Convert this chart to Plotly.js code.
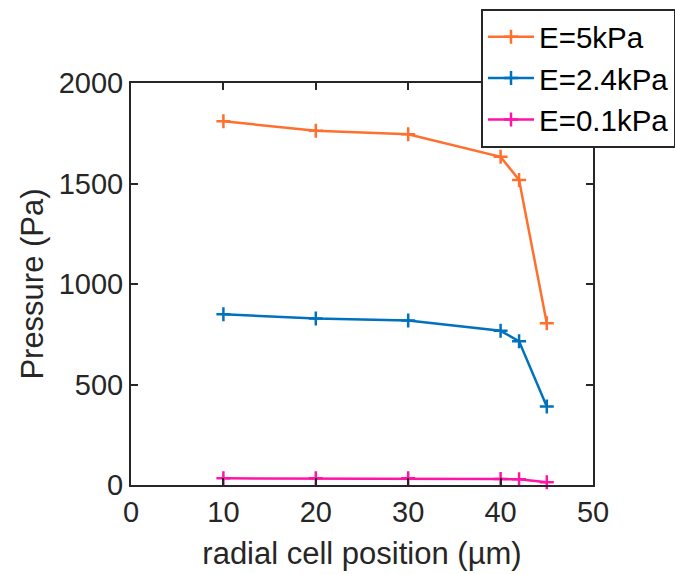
<!DOCTYPE html>
<html>
<head>
<meta charset="utf-8">
<script src="https://cdn.plot.ly/plotly-3.0.1.min.js"></script>
<style>html,body{margin:0;padding:0;background:#fff;}#chart{width:675px;height:574px;}</style>
</head>
<body>
<div id="chart"></div>
<script>
const positions = [10, 20, 30, 40, 42, 45];
const pressure5kPa = [1810, 1762, 1745, 1633, 1517, 805];
const pressure2_4kPa = [849, 828, 818, 767, 715, 390];
const pressure0_1kPa = [33, 33, 33, 30, 28, 14];
const seriesNames = ['E=5kPa', 'E=2.4kPa', 'E=0.1kPa'];
const seriesColors = ['#FF6F2E', '#0072BD', '#FF14A8'];
const xTicks = [0, 10, 20, 30, 40, 50];
const yTicks = [0, 500, 1000, 1500, 2000];

const values = [pressure5kPa, pressure2_4kPa, pressure0_1kPa];
const traces = values.map((v, i) => ({
  x: positions, y: v, name: seriesNames[i], type: 'scatter', mode: 'lines+markers',
  line: {color: seriesColors[i], width: 2.5},
  marker: {symbol: 'cross-thin', size: 10, line: {color: seriesColors[i], width: 2.5}},
  cliponaxis: false
}));

const axisCommon = {
  showgrid: false, zeroline: false, showline: true, mirror: 'ticks',
  linecolor: '#262626', linewidth: 2, ticks: 'inside', ticklen: 7, tickwidth: 2, tickcolor: '#262626',
  tickfont: {family: 'Liberation Sans, Arial, sans-serif', size: 29, color: '#262626'}
};

const layout = {
  width: 675, height: 574,
  margin: {l: 131, r: 82, t: 83, b: 89, autoexpand: false},
  paper_bgcolor: '#fff', plot_bgcolor: '#fff',
  font: {family: 'Liberation Sans, Arial, sans-serif', color: '#262626'},
  showlegend: true,
  xaxis: Object.assign({}, axisCommon, {range: [0, 50], tickvals: xTicks, ticktext: xTicks.map(String),
    title: {text: 'radial cell position (µm)', font: {size: 31, color: '#262626'}, standoff: 16}}),
  yaxis: Object.assign({}, axisCommon, {range: [0, 2000], tickvals: yTicks, ticktext: yTicks.map(String),
    title: {text: 'Pressure (Pa)', font: {size: 31, color: '#262626'}, standoff: 6}}),
  legend: {x: 0.7576, y: 1.184, xanchor: 'left', yanchor: 'top', bgcolor: '#fff', itemwidth: 46,
    bordercolor: '#262626', borderwidth: 2, font: {size: 29.5, color: '#000'}, tracegroupgap: 0}
};

Plotly.newPlot('chart', traces, layout, {staticPlot: true});
</script>
</body>
</html>
